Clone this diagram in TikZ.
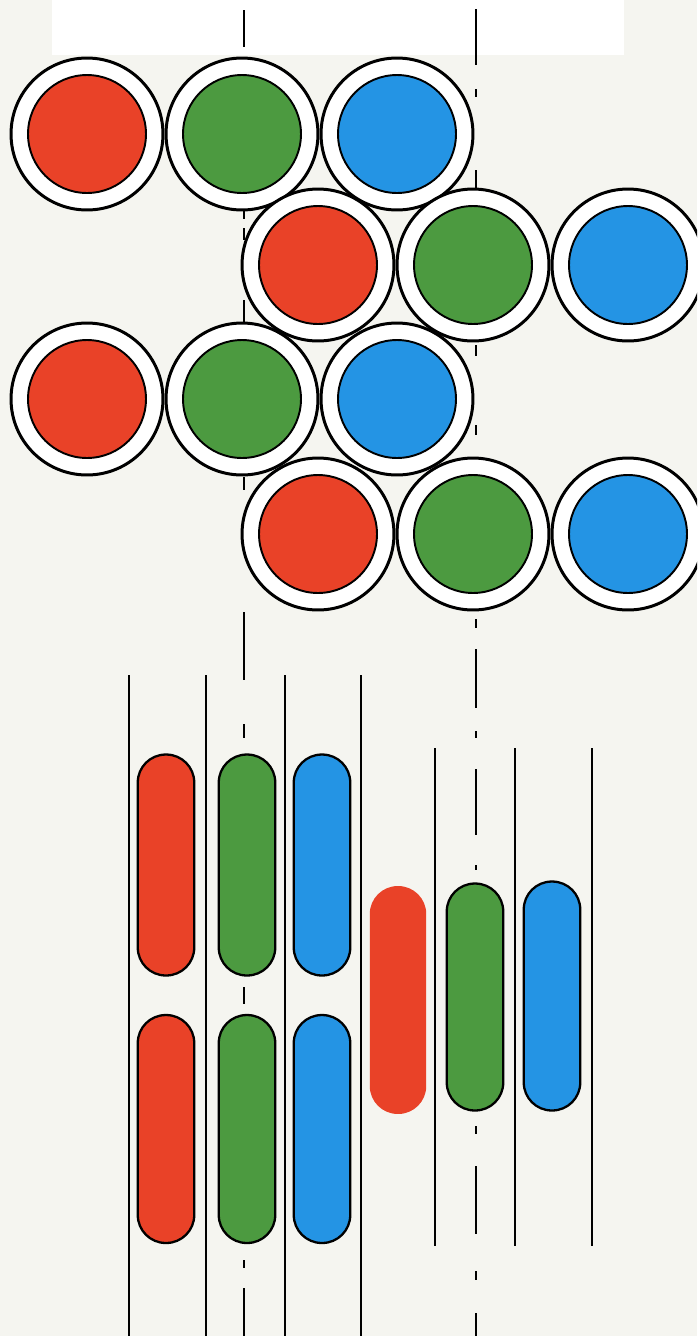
\documentclass[tikz,border=0pt]{standalone}
\usepackage{tikz}
\usetikzlibrary{positioning}
\definecolor{paper}{RGB}{245,245,240}
\definecolor{redc}{RGB}{233,66,40}
\definecolor{greenc}{RGB}{76,154,64}
\definecolor{bluec}{RGB}{36,148,228}

\begin{document}
\begin{tikzpicture}[x=0.02cm,y=-0.02cm,
  ring/.style={circle,draw,line width=1.7pt,fill=white,minimum size=3.04cm,inner sep=0pt},
  core/.style={circle,draw,line width=1.1pt,minimum size=2.36cm,inner sep=0pt},
  pill/.style={rectangle,draw,line width=1.3pt,rounded corners=0.56cm,minimum width=1.13cm,inner sep=0pt},
  rule/.style={line width=1.1pt},
  axis/.style={line width=1.1pt}]
  \useasboundingbox (0,0) rectangle (697,1336);
  \clip (0,0) rectangle (697,1336);
  % paper and white strip on top
  \fill[paper] (0,0) rectangle (697,1336);
  \fill[white] (52,0) rectangle (624,55);
  % centre lines (dash-dot, mostly hidden by the discs)
  \foreach \a/\b in {10/47,206/219,228/240,300/323,477/490,612/680,724/738,987/1004,1260/1268,1288/1336}
    \draw[axis] (244,\a) -- (244,\b);
  \foreach \a/\b in {9/65,89/97,170/190,345/356,425/435,619/628,649/708,731/738,769/835,865/870,1126/1134,1166/1234,1271/1280,1313/1336}
    \draw[axis] (476,\a) -- (476,\b);
  % stripe borders below
  \foreach \x in {129,206,285,361}
    \draw[rule] (\x,675) -- (\x,1336);
  \foreach \x in {435,515,592}
    \draw[rule] (\x,748) -- (\x,1246);
  % discs, four rows of three
  \foreach \row/\y/\x in {a/134/87,b/265/318,c/399/87,d/534/318}{
    \foreach \col/\c [count=\i from 0] in {r/redc,g/greenc,b/bluec}{
      \node[ring] (\row\col) at (\x+155*\i,\y) {};
      \node[core,fill=\c] (\row\col-in) at (\row\col) {};
    }
  }
  % stripes, left block two rows
  \foreach \col/\x/\c in {r/166/redc,g/247/greenc,b/322/bluec}{
    \node[pill,fill=\c,minimum height=4.42cm] (top\col) at (\x,865) {};
    \node[pill,fill=\c,minimum height=4.56cm] (low\col) at (\x,1129) {};
  }
  % stripes, right block shifted
  \node[pill,fill=redc,draw=none,minimum height=4.56cm] (midr) at (398,1000) {};
  \node[pill,fill=greenc,minimum height=4.54cm] (midg) at (475,997) {};
  \node[pill,fill=bluec,minimum height=4.58cm] (midb) at (552,996) {};
\end{tikzpicture}
\end{document}
